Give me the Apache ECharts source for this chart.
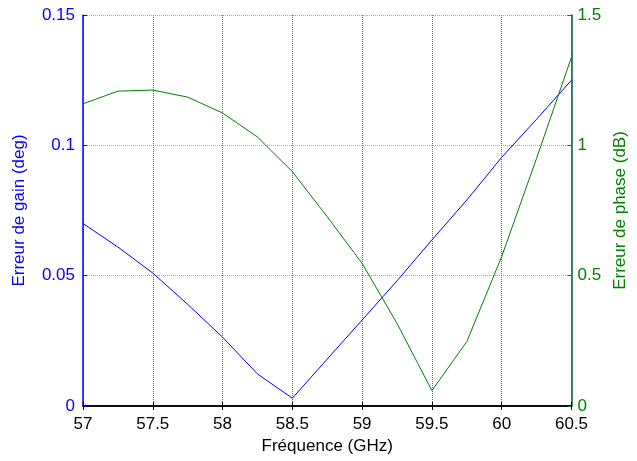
<!DOCTYPE html>
<html>
<head>
<meta charset="utf-8">
<script src="https://cdn.jsdelivr.net/npm/echarts@6/dist/echarts.min.js"></script>
<style>html,body{margin:0;padding:0;background:#fff}#c{width:637px;height:461px}</style>
</head>
<body>
<div id="c"></div>
<script>
var freq = [57, 57.25, 57.5, 57.75, 58, 58.25, 58.5, 58.75, 59, 59.25, 59.5, 59.75, 60, 60.25, 60.5];
var gainErr = [0.070, 0.061, 0.051, 0.039, 0.0264, 0.0123, 0.003, 0.018, 0.033, 0.048, 0.0637, 0.079, 0.0954, 0.110, 0.125];
var phaseErr = [1.159, 1.208, 1.212, 1.185, 1.124, 1.032, 0.899, 0.726, 0.547, 0.317, 0.059, 0.247, 0.573, 0.950, 1.338];

var FONT = 'Liberation Sans, Arial, sans-serif';
var chart = echarts.init(document.getElementById('c'), null, {renderer: 'canvas'});
function pairs(xs, ys) { return xs.map(function (x, i) { return [x, ys[i]]; }); }

chart.setOption({
  animation: false,
  backgroundColor: '#ffffff',
  grid: {left: 83, right: 64, top: 15, bottom: 55, containLabel: false},
  xAxis: [{
    type: 'value', min: 57, max: 60.5, interval: 0.5, position: 'bottom',
    name: 'Fréquence (GHz)', nameLocation: 'middle', nameGap: 32,
    nameTextStyle: {color: '#000', fontSize: 17, fontFamily: FONT},
    axisLine: {lineStyle: {color: '#000', width: 1.5}},
    axisTick: {inside: true, length: 4, lineStyle: {color: '#000'}},
    axisLabel: {color: '#000', fontSize: 17, fontFamily: FONT, margin: 10},
    splitLine: {show: true, lineStyle: {color: '#707070', type: 'dotted', width: 1}}
  }, {
    type: 'value', min: 57, max: 60.5, interval: 0.5, position: 'top',
    axisLine: {lineStyle: {color: '#000', width: 1.5}},
    axisTick: {inside: true, length: 4, lineStyle: {color: '#000'}},
    axisLabel: {show: false},
    splitLine: {show: false}
  }],
  yAxis: [{
    type: 'value', min: 0, max: 0.15, interval: 0.05, position: 'left',
    name: 'Erreur de gain (deg)', nameLocation: 'middle', nameGap: 55,
    nameTextStyle: {color: '#0000ff', fontSize: 17, fontFamily: FONT},
    axisLine: {show: true, lineStyle: {color: '#0000ff', width: 1.5}},
    axisTick: {show: true, inside: true, length: 4, lineStyle: {color: '#0000ff'}},
    axisLabel: {color: '#0000ff', fontSize: 17, fontFamily: FONT, margin: 8},
    splitLine: {show: true, lineStyle: {color: '#9a9aff', type: 'dotted', width: 1}}
  }, {
    type: 'value', min: 0, max: 1.5, interval: 0.5, position: 'right',
    name: 'Erreur de phase (dB)', nameLocation: 'middle', nameGap: 40,
    nameTextStyle: {color: '#008000', fontSize: 17, fontFamily: FONT},
    axisLine: {show: true, lineStyle: {color: '#0b5d3f', width: 1.5}},
    axisTick: {show: true, inside: true, length: 4, lineStyle: {color: '#008000'}},
    axisLabel: {color: '#008000', fontSize: 17, fontFamily: FONT, margin: 6},
    splitLine: {show: false}
  }],
  series: [{
    type: 'line', xAxisIndex: 0, yAxisIndex: 0, data: pairs(freq, gainErr),
    showSymbol: false, lineStyle: {color: '#0000ff', width: 1}, itemStyle: {color: '#0000ff'}
  }, {
    type: 'line', xAxisIndex: 0, yAxisIndex: 1, data: pairs(freq, phaseErr),
    showSymbol: false, lineStyle: {color: '#008000', width: 1}, itemStyle: {color: '#008000'}
  }]
});
</script>
</body>
</html>
